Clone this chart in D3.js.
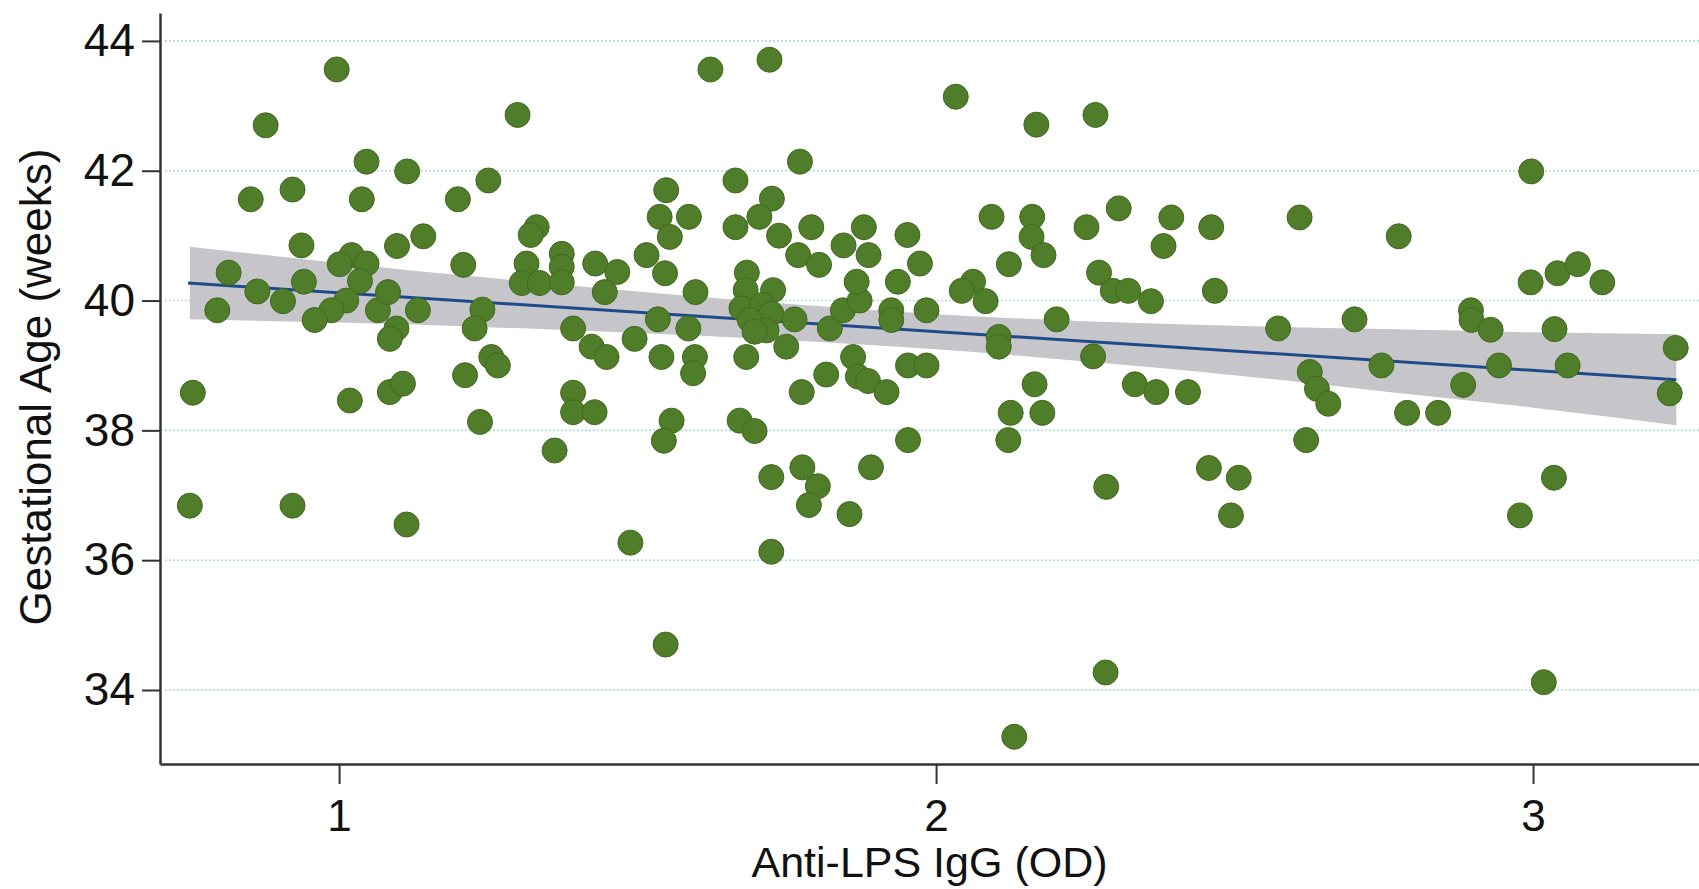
<!DOCTYPE html>
<html>
<head>
<meta charset="utf-8">
<script src="https://cdn.jsdelivr.net/npm/d3@7"></script>
<style>
  body { margin: 0; background: #fff; }
  svg { display: block; font-family: "Liberation Sans", Arial, sans-serif; }
</style>
</head>
<body>
<div id="chart"></div>
<script>
// one entry per subject: anti-LPS IgG (OD) and gestational age at birth (weeks)
const antiLps = [
  0.996, 0.877, 1.299, 1.046, 1.114, 1.250, 0.852, 0.922, 1.038, 1.199,
  1.331, 1.321, 0.937, 1.097, 1.141, 0.815, 0.863, 0.906, 0.941, 0.796,
  1.021, 1.046, 1.001, 1.035, 1.012, 0.987, 0.959, 1.065, 1.082, 1.096,
  1.085, 1.132, 1.208, 1.240, 1.227, 1.255, 1.266, 1.211, 1.314, 1.306,
  1.336, 1.373, 1.373, 1.373, 0.755, 1.018, 1.085, 1.107, 1.236, 1.361,
  0.750, 0.922, 1.113,
  1.622, 1.721, 1.772, 1.664, 1.548, 1.725, 1.537, 1.586, 1.554, 1.664,
  1.704, 1.737, 1.791, 1.879, 1.952, 1.845, 1.887, 1.769, 1.804, 1.973,
  1.515, 1.546, 1.429, 1.466, 1.445, 1.597, 1.683, 1.681, 1.727, 1.674,
  1.708, 1.724, 1.688, 1.716, 1.696, 1.763, 1.749, 1.822, 1.844, 1.925,
  1.925, 1.984, 1.872, 1.867, 1.936, 1.392, 1.423, 1.448, 1.495, 1.534,
  1.585, 1.540, 1.596, 1.593, 1.682, 1.816, 1.861, 1.869, 1.886, 1.917,
  1.953, 1.984, 1.775, 1.392, 1.392, 1.428, 1.557, 1.544, 1.671, 1.696,
  1.953, 1.724, 1.776, 1.802, 1.787, 1.855, 1.891, 1.488, 1.724, 1.547,
  2.033, 2.168, 2.267, 2.093, 2.161, 2.160, 2.180, 2.252, 2.306, 2.394,
  2.381, 2.461, 2.609, 2.122, 2.062, 2.043, 2.083, 2.273, 2.296, 2.322,
  2.360, 2.467, 2.202, 2.105, 2.105, 2.263, 2.573, 2.165, 2.333, 2.369,
  2.422, 2.626, 2.638, 2.657, 2.125, 2.178, 2.121, 2.620, 2.285, 2.457,
  2.507, 2.494, 2.284, 2.131,
  2.997, 2.775, 2.996, 3.041, 3.075, 3.116, 2.701, 2.896, 2.897, 2.929,
  3.036, 3.239, 2.746, 2.943, 3.058, 2.883, 3.229, 2.789, 2.841, 3.035,
  2.978, 3.018
]
const gestAge = [
  43.56, 42.70, 42.86, 42.14, 41.99, 41.85, 41.56, 41.71, 41.56, 41.56,
  41.13, 41.01, 40.85, 40.84, 40.99, 40.43, 40.14, 39.99, 40.29, 39.85,
  40.70, 40.57, 40.56, 40.30, 40.00, 39.85, 39.70, 39.85, 40.13, 39.57,
  39.41, 39.85, 40.55, 39.86, 39.57, 39.13, 39.00, 38.85, 40.57, 40.27,
  40.27, 40.72, 40.52, 40.28, 38.58, 38.46, 38.59, 38.72, 38.13, 37.69,
  36.84, 36.84, 36.55,
  43.56, 43.71, 42.14, 41.85, 41.70, 41.57, 41.29, 41.29, 40.98, 41.13,
  41.29, 41.00, 41.13, 41.13, 41.01, 40.85, 40.70, 40.70, 40.55, 40.57,
  40.70, 40.42, 40.57, 40.44, 40.13, 40.13, 40.43, 40.16, 40.16, 39.88,
  39.93, 39.80, 39.70, 39.54, 39.52, 39.71, 39.29, 39.57, 39.85, 39.85,
  39.70, 39.85, 40.00, 40.29, 40.29, 39.57, 39.29, 39.13, 39.41, 39.71,
  39.57, 39.13, 39.13, 38.88, 39.13, 38.86, 39.13, 38.83, 38.76, 38.59,
  39.00, 39.00, 38.59, 38.58, 38.28, 38.28, 38.15, 37.84, 38.15, 37.99,
  37.85, 37.28, 37.43, 37.14, 36.85, 36.71, 37.43, 36.27, 36.13, 34.70,
  43.14, 42.71, 42.86, 41.29, 41.29, 40.98, 40.70, 41.13, 41.42, 41.28,
  40.84, 41.13, 41.28, 40.56, 40.29, 40.15, 39.99, 40.43, 40.15, 40.15,
  39.99, 40.15, 39.71, 39.44, 39.29, 39.14, 39.57, 38.71, 38.71, 38.59,
  38.59, 38.90, 38.64, 38.41, 38.27, 38.27, 37.85, 37.85, 37.13, 37.42,
  37.27, 36.69, 34.27, 33.28,
  41.99, 40.99, 40.28, 40.42, 40.56, 40.28, 39.71, 39.85, 39.70, 39.55,
  39.56, 39.27, 39.00, 39.00, 39.00, 38.70, 38.57, 38.27, 38.27, 37.27,
  36.69, 34.12
]

const xTicks = [1, 2, 3]
const yTicks = [34, 36, 38, 40, 42, 44]

// fitted line and its confidence band
const fitX = [0.747, 3.24]
const fitY = [40.27, 38.78]
const bandX = [0.75, 1.0, 1.25, 1.5, 1.75, 2.0, 2.25, 2.5, 2.75, 3.0, 3.24]
const bandHi = [40.83, 40.58, 40.35, 40.14, 39.95, 39.79, 39.68, 39.61, 39.56, 39.51, 39.48]
const bandLo = [39.71, 39.66, 39.59, 39.50, 39.39, 39.25, 39.06, 38.85, 38.60, 38.35, 38.08]

const width = 1699, height = 889
const plotLeft = 160, plotRight = 1699, plotTop = 13, plotBottom = 764

let svg = d3.select("#chart")
  .append("svg")
  .attr("width", width)
  .attr("height", height)

let x = d3.scaleLinear()
  .domain([0.7, 3.278])
  .range([plotLeft, plotRight])

let y = d3.scaleLinear()
  .domain([32.86, 44.43])
  .range([plotBottom, plotTop])

// dotted grid
svg.append("g")
  .selectAll("line")
  .data(yTicks)
  .join("line")
  .attr("x1", plotLeft + 5)
  .attr("x2", plotRight)
  .attr("y1", d => y(d))
  .attr("y2", d => y(d))
  .attr("stroke", "#b0dcd8")
  .attr("stroke-width", 1.6)
  .attr("stroke-dasharray", "2,2")

// confidence band
let band = bandX.map((v, i) => ({x: v, lo: bandLo[i], hi: bandHi[i]}))
svg.append("path")
  .datum(band)
  .attr("fill", "#c6c6ca")
  .attr("d", d3.area()
    .curve(d3.curveMonotoneX)
    .x(d => x(d.x))
    .y0(d => y(d.lo))
    .y1(d => y(d.hi)))

// fitted line
svg.append("path")
  .datum(fitX.map((v, i) => [v, fitY[i]]))
  .attr("fill", "none")
  .attr("stroke", "#1f4a8a")
  .attr("stroke-width", 3)
  .attr("d", d3.line()
    .x(d => x(d[0]))
    .y(d => y(d[1])))

// points
svg.append("g")
  .selectAll("circle")
  .data(antiLps.map((v, i) => [v, gestAge[i]]))
  .join("circle")
  .attr("cx", d => x(d[0]))
  .attr("cy", d => y(d[1]))
  .attr("r", 12.5)
  .attr("fill", "#4f7d2a")
  .attr("stroke", "#41691f")
  .attr("stroke-width", 1)

// axes
let yAxis = svg.append("g")
  .attr("transform", `translate(${plotLeft},0)`)
  .call(d3.axisLeft(y).tickValues(yTicks).tickFormat(d3.format("d"))
    .tickSize(18).tickSizeOuter(0).tickPadding(7))
yAxis.select(".domain").attr("stroke", "#333").attr("stroke-width", 2.5)
yAxis.selectAll(".tick line").attr("stroke", "#333").attr("stroke-width", 2)
yAxis.selectAll(".tick text")
  .attr("fill", "#111")
  .style("font-size", "46px")
  .style("font-family", "Liberation Sans, Arial, sans-serif")

let xAxis = svg.append("g")
  .attr("transform", `translate(0,${plotBottom})`)
  .call(d3.axisBottom(x).tickValues(xTicks).tickFormat(d3.format("d"))
    .tickSize(20).tickSizeOuter(0).tickPadding(16))
xAxis.select(".domain").attr("stroke", "#333").attr("stroke-width", 2.5)
xAxis.selectAll(".tick line").attr("stroke", "#333").attr("stroke-width", 2)
xAxis.selectAll(".tick text")
  .attr("fill", "#111")
  .style("font-size", "44px")
  .style("font-family", "Liberation Sans, Arial, sans-serif")

// axis titles
svg.append("text")
  .attr("x", (plotLeft + plotRight) / 2)
  .attr("y", 877)
  .attr("text-anchor", "middle")
  .attr("fill", "#111")
  .style("font-size", "43px")
  .text("Anti-LPS IgG (OD)")

svg.append("text")
  .attr("transform", `translate(51,387) rotate(-90)`)
  .attr("text-anchor", "middle")
  .attr("fill", "#111")
  .style("font-size", "44px")
  .text("Gestational Age (weeks)")
</script>
</body>
</html>
